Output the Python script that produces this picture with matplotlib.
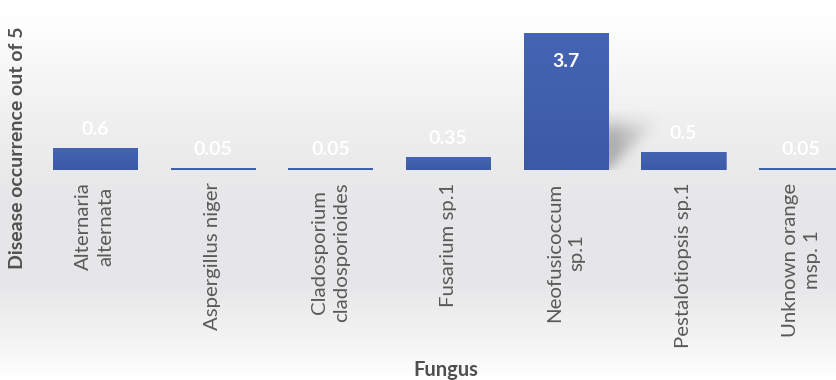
import numpy as np
import matplotlib
matplotlib.use("Agg")
import matplotlib.pyplot as plt
from matplotlib.colors import LinearSegmentedColormap

plt.rcParams['font.family'] = ['Lato', 'DejaVu Sans']

# fungus isolates and how often each caused disease (out of 5)
fungi = ['Alternaria\nalternata', 'Aspergillus niger', 'Cladosporium\ncladosporioides',
         'Fusarium sp.1', 'Neofusicoccum\nsp.1', 'Pestalotiopsis sp.1', 'Unknown orange\nmsp. 1']
occurrence = [0.6, 0.05, 0.05, 0.35, 3.7, 0.5, 0.05]
value_labels = ['0.6', '0.05', '0.05', '0.35', '3.7', '0.5', '0.05']

grey = '#595959'
bar_top = '#4565b4'
bar_bottom = '#3b59a5'

fig = plt.figure(figsize=(8.37, 3.80), dpi=100)

# soft vertical background wash
bg = fig.add_axes([0, 0, 1, 1], zorder=0)
bg.axis('off')
stops = [(0.0, '#ffffff'), (0.08, '#fdfdfd'), (0.3, '#f0f0f1'), (0.55, '#e6e6e8'),
         (0.75, '#e7e7e9'), (0.9, '#f4f4f5'), (1.0, '#ffffff')]
wash = LinearSegmentedColormap.from_list('wash', stops)
bg.imshow(np.linspace(0, 1, 256).reshape(-1, 1), cmap=wash, aspect='auto',
          extent=[0, 1, 0, 1], origin='upper')
bg.set_xlim(0, 1)
bg.set_ylim(0, 1)

ax = fig.add_axes([0, 1 - 170 / 380, 1, 170 / 380], zorder=1)
ax.patch.set_alpha(0)
step = 117.7
xlim = (-95 / step, (837 - 95) / step)
ylim = (0, 170 / 37)

x = np.arange(len(fungi))
width = 0.714
bars = ax.bar(x, occurrence, width=width, color=bar_top, edgecolor='#6f88c9',
              linewidth=0.7, zorder=3)


def sig(t):
    return 1 / (1 + np.exp(-t))


# darker toward the base of each bar
bar_cmap = LinearSegmentedColormap.from_list('barfill', [bar_bottom, bar_top])
for b in bars:
    x0, h = b.get_x(), b.get_height()
    im = ax.imshow(np.linspace(0, 1, 64).reshape(-1, 1), cmap=bar_cmap, origin='lower',
                   aspect='auto', extent=[x0, x0 + width, 0, h], zorder=3.5)
    im.set_clip_path(b)

    # blurred wedge shadow falling to the right of the bar (only shows on tall bars)
    xr = x0 + width
    top, reach = 0.33 * h, 0.11 * h
    u, w = np.meshgrid(np.linspace(0, 1.4, 120), np.linspace(0, 1.3, 120))
    soft = 0.12
    a = sig((w - u) / soft) * sig((1 - w) / soft) * np.clip(1.15 - u, 0, 1)
    a *= sig((w + 0.05) / 0.04)
    shade = np.zeros(a.shape + (4,))
    shade[..., :3] = 0.33
    shade[..., 3] = 0.42 * a * min(1.0, h / 3.0) ** 2
    ax.imshow(shade, origin='lower', aspect='auto', interpolation='bilinear',
              extent=[xr, xr + 1.4 * reach, 0, 1.3 * top], zorder=2)
ax.set_xlim(*xlim)
ax.set_ylim(*ylim)

for xi, v, lab in zip(x, occurrence, value_labels):
    if v > 2:
        ax.annotate(lab, (xi, v), xytext=(0, -14), textcoords='offset points',
                    ha='center', va='top', color='white', fontsize=14,
                    fontweight='bold', zorder=5)
    else:
        ax.annotate(lab, (xi, v), xytext=(0, 7), textcoords='offset points',
                    ha='center', va='bottom', color='white', fontsize=14,
                    fontweight='bold', zorder=5)

for s in ax.spines.values():
    s.set_visible(False)
ax.set_yticks([])
ax.set_xticks(x)
ax.set_xticklabels(fungi, rotation=90, ha='center', va='top', multialignment='center',
                   linespacing=1.38, color=grey, fontsize=14.7)
ax.tick_params(axis='x', length=0, pad=9)

fig.text(18 / 837, 1 - 148 / 380, 'Disease occurrence out of 5', rotation=90,
         ha='center', va='center', color='#505050', fontsize=14, fontweight='bold')
fig.text(446 / 837, 1 - 370 / 380, 'Fungus', ha='center', va='center', color='#505050',
         fontsize=14.5, fontweight='bold')

fig.savefig('out.png', dpi=100)
